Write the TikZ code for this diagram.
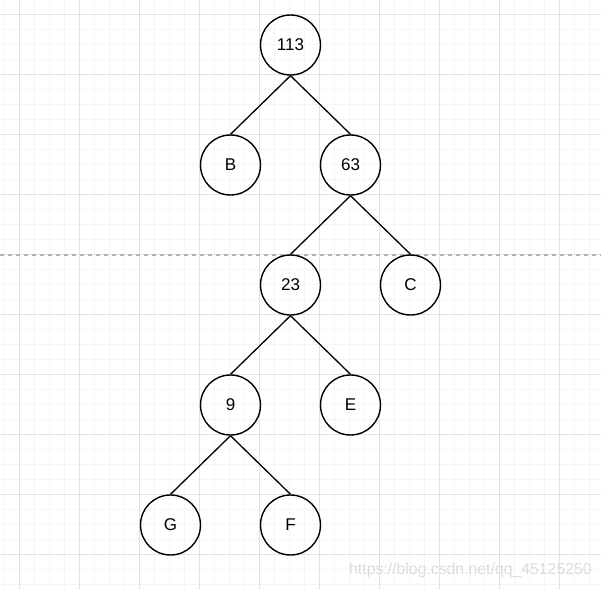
\documentclass[tikz,border=0pt]{standalone}
\usepackage{fontspec}
\setmainfont{Liberation Sans}
\definecolor{minorgrid}{HTML}{F5F5F5}
\definecolor{majorgrid}{HTML}{E2E2E2}
\definecolor{dashgray}{HTML}{B4B4B4}
\definecolor{wmark}{HTML}{DCDCDC}
\begin{document}
\begin{tikzpicture}[x=1pt,y=-1pt,
  treenode/.style={circle,draw=black,line width=1.4pt,minimum size=60pt,inner sep=0pt,fill=none,
    font=\fontsize{17}{19}\selectfont},
  edge/.style={draw=black,line width=1.3pt}]
\useasboundingbox (0,0) rectangle (601,589);
\fill[white] (0,0) rectangle (601,589);
% minor grid
\foreach \x in {4.5,19.5,...,600} \draw[minorgrid,line width=1pt] (\x,0) -- (\x,589);
\foreach \y in {-0.5,14.5,...,589} \draw[minorgrid,line width=1pt] (0,\y) -- (601,\y);
% major grid
\foreach \x in {19.5,79.5,...,600} \draw[majorgrid,line width=1pt] (\x,0) -- (\x,589);
\foreach \y in {14.5,74.5,...,589} \draw[majorgrid,line width=1pt] (0,\y) -- (601,\y);
% dashed separator
\coordinate (dl) at (0,255);
\coordinate (dr) at (601,255);
\draw[dashgray,line width=1.2pt,dash pattern=on 4pt off 4pt] (dl) -- (dr);
% nodes
\node[treenode] (n113) at (290.5,45) {113};
\node[treenode] (nB) at (230.5,165) {B};
\node[treenode] (n63) at (350.5,165) {63};
\node[treenode] (n23) at (290.5,285) {23};
\node[treenode] (nC) at (410.5,285) {C};
\node[treenode] (n9) at (230.5,405) {9};
\node[treenode] (nE) at (350.5,405) {E};
\node[treenode] (nG) at (170.5,525) {G};
\node[treenode] (nF) at (290.5,525) {F};
% edges
\draw[edge] (n113.south) -- (nB.north);
\draw[edge] (n113.south) -- (n63.north);
\draw[edge] (n63.south) -- (n23.north);
\draw[edge] (n63.south) -- (nC.north);
\draw[edge] (n23.south) -- (n9.north);
\draw[edge] (n23.south) -- (nE.north);
\draw[edge] (n9.south) -- (nG.north);
\draw[edge] (n9.south) -- (nF.north);
% watermark
\node[wmark,anchor=west,inner sep=0pt,font=\fontsize{15.8}{17}\selectfont] (wm) at (349,570) {https://blog.csdn.net/qq\_45125250};
\end{tikzpicture}
\end{document}
